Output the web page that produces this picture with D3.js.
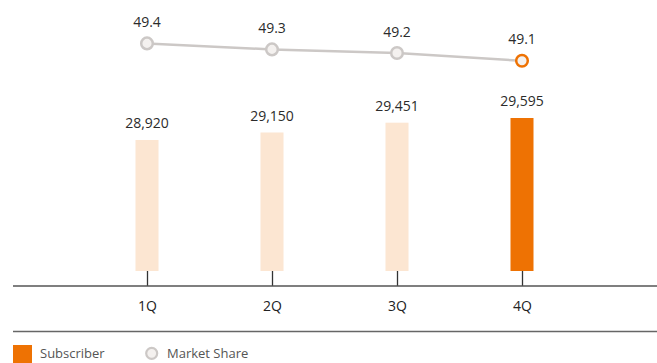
<!DOCTYPE html>
<html>
<head>
<meta charset="utf-8">
<script src="https://cdn.jsdelivr.net/npm/d3@7"></script>
<style>
  body { margin: 0; background: #fff; }
  text { font-family: "Open Sans", sans-serif; }
</style>
</head>
<body>
<div id="chart"></div>
<script>
var quarters = ["1Q", "2Q", "3Q", "4Q"];
var subscribers = [28920, 29150, 29451, 29595];
var share = [49.36, 49.26, 49.20, 49.07];

var width = 657, height = 363;

var svg = d3.select("#chart")
  .append("svg")
    .attr("width", width)
    .attr("height", height);

var x = d3.scalePoint()
    .domain(quarters)
    .range([147, 522]);

var yBar = d3.scaleLinear()
    .domain([24900, 29595])
    .range([271, 118]);

var yLine = d3.scaleLinear()
    .domain([49.0, 49.5])
    .range([65, 35]);

var fmtNum = d3.format(",");
var fmtShare = d3.format(".1f");
var barW = 23;

// bars
svg.append("g")
  .selectAll("rect")
  .data(subscribers)
  .enter()
  .append("rect")
    .attr("x", function(d, i) { return x(quarters[i]) - barW / 2; })
    .attr("y", function(d) { return yBar(d); })
    .attr("width", barW)
    .attr("height", function(d) { return yBar.range()[0] - yBar(d); })
    .attr("fill", function(d, i) { return i == quarters.length - 1 ? "#ee7203" : "#fce6d2"; });

svg.append("g")
  .selectAll("text")
  .data(subscribers)
  .enter()
  .append("text")
    .attr("x", function(d, i) { return x(quarters[i]); })
    .attr("y", function(d) { return yBar(d) - 12; })
    .attr("text-anchor", "middle")
    .style("font-size", "14px")
    .style("fill", "#2b2b2b")
    .text(function(d) { return fmtNum(d); });

// x axis
var axis = svg.append("g")
    .attr("transform", "translate(0,286)")
    .call(d3.axisBottom(x).tickSize(-15).tickPadding(0));
axis.select(".domain").remove();
axis.selectAll(".tick line").attr("stroke", "#333").attr("stroke-width", 1.3);
axis.selectAll(".tick text")
    .attr("y", 0)
    .attr("dy", "25px")
    .style("font-family", "'Open Sans', sans-serif")
    .style("font-size", "14px")
    .style("fill", "#222");

svg.append("line")
    .attr("x1", 13).attr("x2", width)
    .attr("y1", 286).attr("y2", 286)
    .attr("stroke", "#555").attr("stroke-width", 1.5);

svg.append("line")
    .attr("x1", 13).attr("x2", width)
    .attr("y1", 331.5).attr("y2", 331.5)
    .attr("stroke", "#666").attr("stroke-width", 1.5);

// market share line
var line = d3.line()
    .x(function(d, i) { return x(quarters[i]); })
    .y(function(d) { return yLine(d); });

svg.append("path")
    .datum(share)
    .attr("d", line)
    .attr("fill", "none")
    .attr("stroke", "#ccc8c6")
    .attr("stroke-width", 2.5);

svg.append("g")
  .selectAll("circle")
  .data(share)
  .enter()
  .append("circle")
    .attr("cx", function(d, i) { return x(quarters[i]); })
    .attr("cy", function(d) { return yLine(d); })
    .attr("r", 5.8)
    .attr("fill", "#f4f1ef")
    .attr("stroke", function(d, i) { return i == quarters.length - 1 ? "#ee7203" : "#ccc8c6"; })
    .attr("stroke-width", 2.5);

svg.append("g")
  .selectAll("text")
  .data(share)
  .enter()
  .append("text")
    .attr("x", function(d, i) { return x(quarters[i]); })
    .attr("y", function(d) { return yLine(d) - 16.5; })
    .attr("text-anchor", "middle")
    .style("font-size", "14px")
    .style("fill", "#2b2b2b")
    .text(function(d) { return fmtShare(d); });

// legend
svg.append("rect")
    .attr("x", 13).attr("y", 345)
    .attr("width", 19).attr("height", 18)
    .attr("fill", "#ee7203");
svg.append("text")
    .attr("x", 40).attr("y", 357.5)
    .style("font-size", "13px")
    .style("fill", "#555")
    .text("Subscriber");
svg.append("circle")
    .attr("cx", 151.7).attr("cy", 353.3).attr("r", 5.5)
    .attr("fill", "#f4f1ef")
    .attr("stroke", "#ccc8c6")
    .attr("stroke-width", 2.2);
svg.append("text")
    .attr("x", 167).attr("y", 357.5)
    .style("font-size", "13px")
    .style("fill", "#555")
    .text("Market Share");
</script>
</body>
</html>
